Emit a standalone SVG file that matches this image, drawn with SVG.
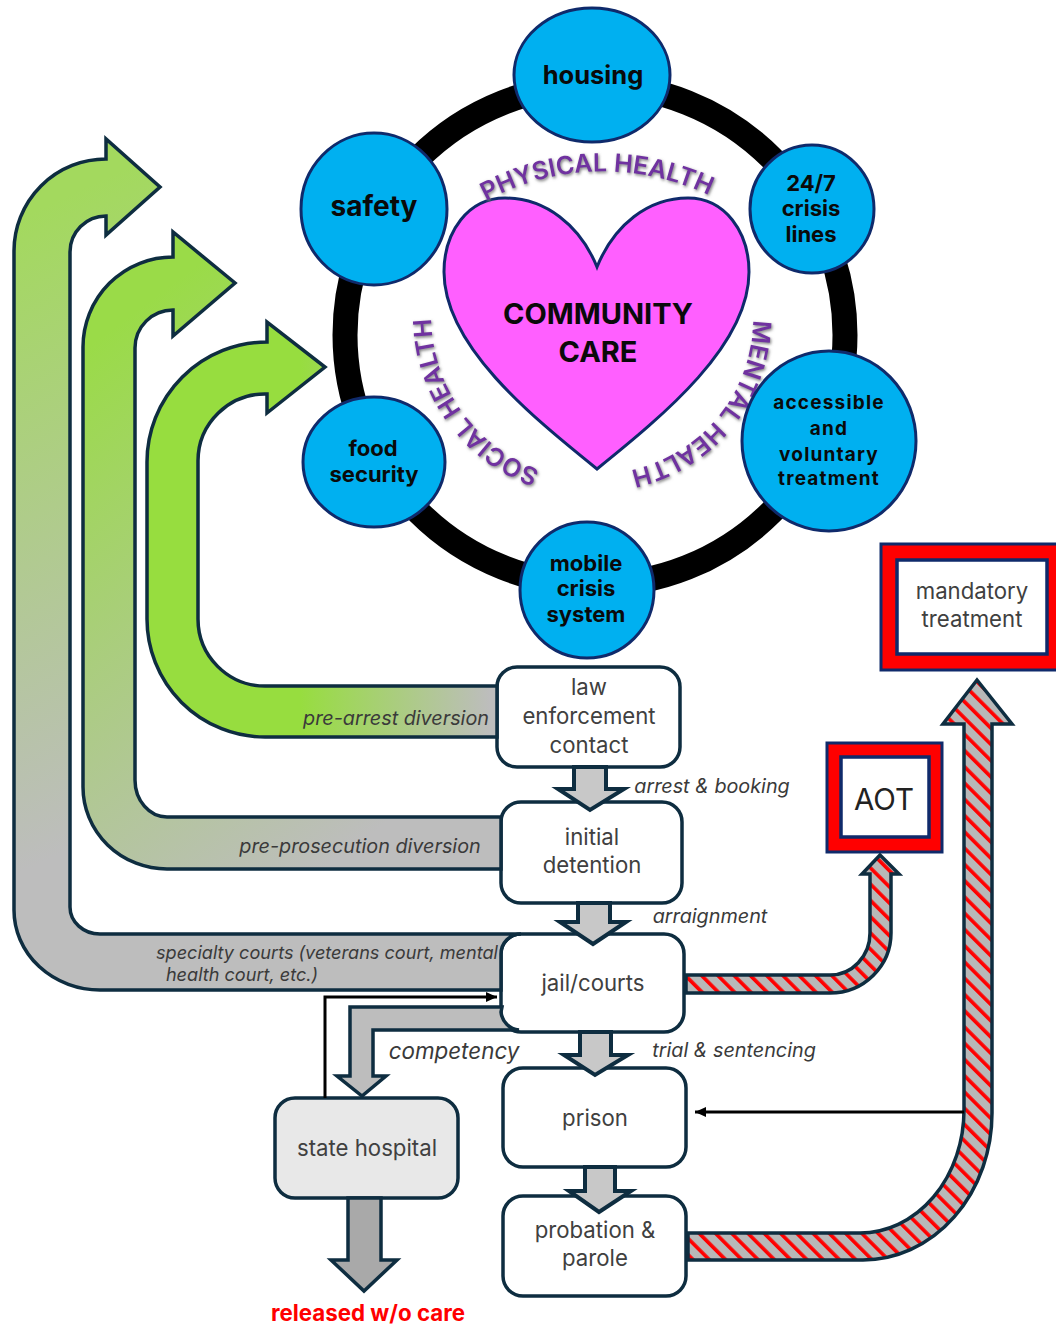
<svg xmlns="http://www.w3.org/2000/svg" width="1056" height="1324" viewBox="0 0 1056 1324">
<style>
text{font-family:Inter,"Liberation Sans",sans-serif;text-anchor:middle}
.c{fill:#00b0f0;stroke:#0f2a6b;stroke-width:3}
.b{fill:#fff;stroke:#0e2d40;stroke-width:3.5}
.t{font-size:22.2px;fill:#404040}
.cb{font-weight:700;fill:#0a0a0a}
.big{stroke:#0e2d40;stroke-width:3.5;stroke-linejoin:miter}
.sm{fill:#c8c8c8;stroke:#0e2d40;stroke-width:4}
.i{font-style:italic;font-size:19.8px;fill:#3a3a3a}
.ph{font-size:25px;font-weight:600;fill:#7030a0;filter:url(#sh);text-anchor:start}
.o{fill:#f00;stroke:#0f2a6b;stroke-width:3}
.n{fill:#fff;stroke:#0f2a6b;stroke-width:3.5}
</style>
<defs>
<linearGradient id="g3" gradientUnits="userSpaceOnUse" x1="300" y1="700" x2="490" y2="700"><stop offset="0" stop-color="#97dd3f"/><stop offset="1" stop-color="#bdbdbd"/></linearGradient>
<linearGradient id="g2" gradientUnits="userSpaceOnUse" x1="150" y1="300" x2="486" y2="748"><stop offset="0" stop-color="#9adb48"/><stop offset="1" stop-color="#bdbdbd"/></linearGradient>
<linearGradient id="g1" gradientUnits="userSpaceOnUse" x1="100" y1="180" x2="350" y2="720"><stop offset="0" stop-color="#a3d95e"/><stop offset="1" stop-color="#bdbdbd"/></linearGradient>
<pattern id="hatch" patternUnits="userSpaceOnUse" width="11.5" height="11.5" patternTransform="rotate(-45)"><rect width="11.5" height="11.5" fill="#b8b8b8"/><rect width="3.6" height="11.5" fill="#f00"/></pattern>
<marker id="ah" markerUnits="userSpaceOnUse" markerWidth="12" markerHeight="12" refX="11" refY="6" orient="auto"><path d="M0 1L11 6L0 11Z" fill="#000"/></marker>
<filter id="sh" x="-10%" y="-10%" width="120%" height="120%"><feDropShadow dx="1" dy="1.5" stdDeviation="1.6" flood-color="#777"/></filter>
<path id="pPhys" d="M486 201A246 246 0 0 1 720 201"/>
<path id="pMent" d="M753 320A155 155 0 0 1 620 472"/>
<path id="pSoc" d="M540 470A163 163 0 0 1 432 300"/>
</defs>

<g id="ring"><circle cx="595" cy="335" r="250" fill="none" stroke="#000" stroke-width="25"/></g>

<g id="heart"><path d="M597 267C580 225 545 198 505 198C468 198 444 232 444 272C444 345 530 415 597 469C664 415 749 345 749 272C749 232 725 198 688 198C648 198 614 225 597 267Z" fill="#ff5fff" stroke="#0f2a6b" stroke-width="3"/>
<text x="598" y="324" class="cb" font-size="29">COMMUNITY</text><text x="598" y="362" class="cb" font-size="29">CARE</text></g>

<g id="labels-health">
<text class="ph"><textPath href="#pPhys">PHYSICAL HEALTH</textPath></text>
<text class="ph"><textPath href="#pMent">MENTAL HEALTH</textPath></text>
<text class="ph"><textPath href="#pSoc">SOCIAL HEALTH</textPath></text>
</g>

<g id="housing"><ellipse class="c" cx="592" cy="75" rx="78" ry="67"/><text x="593" y="84" class="cb" font-size="25.5">housing</text></g>
<g id="safety"><ellipse class="c" cx="374" cy="209" rx="73" ry="76"/><text x="374" y="216" class="cb" font-size="28">safety</text></g>
<g id="crisis-lines"><ellipse class="c" cx="812" cy="209" rx="62" ry="64"/><text class="cb" font-size="22" x="811" y="191">24/7</text><text class="cb" font-size="22" x="811" y="216">crisis</text><text class="cb" font-size="22" x="811" y="242">lines</text></g>
<g id="accessible"><ellipse class="c" cx="829" cy="441" rx="87" ry="90"/><g class="cb" font-size="19" letter-spacing="1.2"><text x="829" y="409">accessible</text><text x="829" y="435">and</text><text x="829" y="461">voluntary</text><text x="829" y="485">treatment</text></g></g>
<g id="food"><ellipse class="c" cx="374" cy="462" rx="71" ry="65"/><text class="cb" font-size="22" x="373" y="456">food</text><text class="cb" font-size="22" x="374" y="482">security</text></g>
<g id="mobile"><ellipse class="c" cx="587" cy="590" rx="67" ry="68"/><text class="cb" font-size="22" x="586" y="571">mobile</text><text class="cb" font-size="22" x="586" y="596">crisis</text><text class="cb" font-size="22" x="586" y="622">system</text></g>

<g id="law"><rect class="b" x="497" y="667" width="183" height="100" rx="20"/><text class="t" x="589" y="695">law</text><text class="t" x="589" y="724">enforcement</text><text class="t" x="589" y="753">contact</text></g>
<g id="initial"><rect class="b" x="501" y="802" width="181" height="101" rx="20"/><text class="t" x="592" y="845">initial</text><text class="t" x="592" y="873">detention</text></g>
<g id="jail"><rect class="b" x="501" y="934" width="183" height="98" rx="20"/><text class="t" x="593" y="991">jail/courts</text></g>
<g id="prison"><rect class="b" x="503" y="1068" width="183" height="99" rx="20"/><text class="t" x="595" y="1126">prison</text></g>
<g id="probation"><rect class="b" x="503" y="1196" width="183" height="100" rx="20"/><text class="t" x="595" y="1238">probation &amp;</text><text class="t" x="595" y="1266">parole</text></g>
<g id="hospital"><rect class="b" x="275" y="1098" width="183" height="100" rx="20" style="fill:#e8e8e8"/><text class="t" x="367" y="1156">state hospital</text></g>
<g id="aot"><rect class="o" x="827" y="743" width="115" height="109"/><rect class="n" x="841" y="757" width="88" height="80"/><text x="884" y="810" font-size="29.5" fill="#222">AOT</text></g>
<g id="mandatory"><rect class="o" x="881" y="544" width="185" height="126"/><rect class="n" x="897" y="560" width="150" height="94"/><text class="t" x="972" y="599">mandatory</text><text class="t" x="972" y="627">treatment</text></g>
<g id="released"><text x="368" y="1321" font-size="22.3" font-weight="700" fill="#f00">released w/o care</text></g>

<g id="connectors">
<path class="big" fill="url(#g3)" d="M497 686H265A67 67 0 0 1 198 619V461A67 67 0 0 1 267 394V413L325 367L267 322V342A120 120 0 0 0 147 462V619A118 118 0 0 0 265 737H497Z"/>
<path class="big" fill="url(#g2)" d="M501 817H167A32 37 0 0 1 135 780V348A38 38 0 0 1 173 310V336L235 283L173 232V257A90 90 0 0 0 83 347V787A84 82 0 0 0 167 869H501Z"/>
<path class="big" fill="url(#g1)" d="M521 934H100A30 27 0 0 1 70 907V252A36 36 0 0 1 106 216V235L160 187L106 139V159A92 92 0 0 0 14 251V910A86 80 0 0 0 100 990H501V954A20 20 0 0 1 521 934Z"/>
<path class="big" fill="#bdbdbd" d="M502 1007H350V1076H337L362 1096L386 1076H373V1030H519A20 20 0 0 1 501 1012Z"/>
<path class="big" fill="#a9a9a9" d="M348 1198V1260H331L364 1291L397 1260H381V1198Z"/>
<path class="big" fill="url(#hatch)" d="M686 975H830A40 42 0 0 0 870 933V874H862L880 855L899 874H891V933A61 60 0 0 1 830 993H686Z"/>
<path class="big" fill="url(#hatch)" d="M688 1233H860A104 123 0 0 0 964 1110V724H943L977 680L1012 724H992V1113A129 147 0 0 1 863 1260H688Z"/>
<path class="sm" d="M574 767V789H558L590 810L624 789H606V767Z"/>
<path class="sm" d="M578 903V922H560L593 944L626 922H610V903Z"/>
<path class="sm" d="M580 1032V1055H564L595 1075L628 1055H611V1032Z"/>
<path class="sm" d="M585 1167V1191H569L599 1212L631 1191H615V1167Z"/>
<path d="M325 1098V997H497" fill="none" stroke="#000" stroke-width="3" marker-end="url(#ah)"/>
<path d="M964 1112H695" fill="none" stroke="#000" stroke-width="3" marker-end="url(#ah)"/>
<text class="i" x="396" y="725">pre-arrest diversion</text>
<text class="i" x="360" y="853">pre-prosecution diversion</text>
<text class="i" x="327" y="959" style="font-size:18.1px">specialty courts (veterans court, mental</text>
<text class="i" x="242" y="981" style="font-size:18.1px">health court, etc.)</text>
<text class="i" x="712" y="793">arrest &amp; booking</text>
<text class="i" x="710" y="923">arraignment</text>
<text class="i" x="734" y="1057">trial &amp; sentencing</text>
<text class="i" x="454" y="1059" style="font-size:22.4px">competency</text>
</g>
</svg>
